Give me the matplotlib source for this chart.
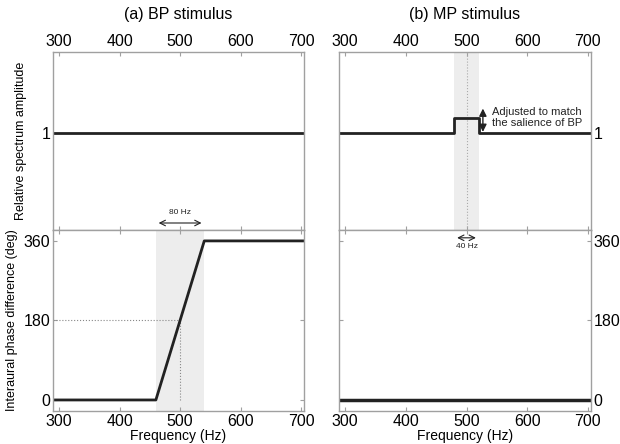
import matplotlib.pyplot as plt
import numpy as np

plt.rcParams['font.family'] = ['Liberation Sans', 'DejaVu Sans']

# data
freq_ticks = [300, 400, 500, 600, 700]
bp_freq = [290, 460, 540, 710]
bp_phase = [0, 0, 360, 360]
bp_amp_freq = [290, 710]
bp_amp = [1, 1]
mp_freq = [290, 480, 480, 520, 520, 710]
mp_amp = [1, 1, 1.15, 1.15, 1, 1]
mp_phase_freq = [290, 710]
mp_phase = [0, 0]
bp_band = (460, 540)
mp_band = (480, 520)
centre = 500

XLIM = (290, 705)
AMP_LIM = (0, 1.833)
PHASE_LIM = (-25, 385)
LINE = '#222222'
SPINE = '#a0a0a0'
SHADE = '#ededed'

fig = plt.figure(figsize=(6.2, 4.44), dpi=100)
ax_a_top = fig.add_axes([0.0855, 0.482, 0.405, 0.401])
ax_a_bot = fig.add_axes([0.0855, 0.0743, 0.405, 0.408])
ax_b_top = fig.add_axes([0.547, 0.482, 0.406, 0.401])
ax_b_bot = fig.add_axes([0.547, 0.0743, 0.406, 0.408])


def style(ax, top_panel, right_labels):
    ax.set_xlim(*XLIM)
    ax.set_xticks(freq_ticks)
    for s in ax.spines.values():
        s.set_color(SPINE)
        s.set_linewidth(1.0)
    ax.tick_params(direction='in', length=3, color=SPINE, labelsize=11.5,
                   top=True, bottom=True, left=True, right=True,
                   labeltop=top_panel, labelbottom=not top_panel,
                   labelleft=not right_labels, labelright=right_labels, pad=2)


# (a) BP amplitude
ax = ax_a_top
ax.plot(bp_amp_freq, bp_amp, color=LINE, lw=2)
ax.set_ylim(*AMP_LIM)
ax.set_yticks([1])
style(ax, True, False)
ax.set_title('(a) BP stimulus', fontsize=11.5, pad=24)
ax.set_ylabel('Relative spectrum amplitude', fontsize=9, labelpad=10)
ax.annotate('', xy=(bp_band[0], 0.072), xytext=(bp_band[1], 0.072),
            arrowprops=dict(arrowstyle='<->', color=LINE, lw=0.8))
ax.text(centre, 0.14, '80 Hz', fontsize=6, ha='center', va='bottom', color=LINE)

# (a) BP phase
ax = ax_a_bot
ax.axvspan(*bp_band, color=SHADE, lw=0)
ax.plot([XLIM[0], centre - 3], [180, 180], color='#888888', lw=0.8, ls=':')
ax.plot([centre, centre], [0, 180], color='#888888', lw=0.8, ls=':')
ax.plot(bp_freq, bp_phase, color=LINE, lw=2)
ax.set_ylim(*PHASE_LIM)
ax.set_yticks([0, 180, 360])
style(ax, False, False)
ax.set_ylabel('Interaural phase difference (deg)', fontsize=9, labelpad=4)
ax.set_xlabel('Frequency (Hz)', fontsize=10, labelpad=0)

# (b) MP amplitude
ax = ax_b_top
ax.axvspan(*mp_band, color=SHADE, lw=0)
ax.axvline(centre, color='#aaaaaa', lw=0.8, ls=':')
ax.plot(mp_freq, mp_amp, color=LINE, lw=2)
ax.set_ylim(*AMP_LIM)
ax.set_yticks([1])
style(ax, True, True)
ax.set_title('(b) MP stimulus', fontsize=11.5, pad=24)
ax.annotate('', xy=(527, 1.25), xytext=(527, 1.01),
            arrowprops=dict(arrowstyle='<|-|>', color=LINE, lw=1,
                            mutation_scale=11, shrinkA=0, shrinkB=0))
ax.text(542, 1.155, 'Adjusted to match\nthe salience of BP', fontsize=8,
        ha='left', va='center', color=LINE, linespacing=1.15)

# (b) MP phase
ax = ax_b_bot
ax.plot(mp_phase_freq, mp_phase, color=LINE, lw=2.5)
ax.set_ylim(*PHASE_LIM)
ax.set_yticks([0, 180, 360])
style(ax, False, True)
ax.set_xlabel('Frequency (Hz)', fontsize=10, labelpad=0)
ax.annotate('', xy=(mp_band[0], 367), xytext=(mp_band[1], 367),
            arrowprops=dict(arrowstyle='<->', color=LINE, lw=0.8))
ax.text(centre, 355, '40 Hz', fontsize=6, ha='center', va='top', color=LINE)

fig.savefig('out.png', dpi=100)
